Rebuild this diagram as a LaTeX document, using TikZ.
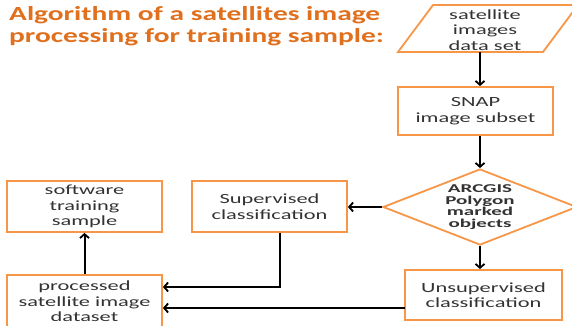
\documentclass[tikz,border=0pt]{standalone}
\usepackage{fontspec}
\setmainfont[FakeStretch=1.6]{Carlito}
\newfontfamily\titlefont[FakeStretch=1.47]{Carlito}
\newfontfamily\diafont[FakeStretch=1.75]{Carlito}
\usetikzlibrary{arrows.meta,shapes.geometric}
\definecolor{boxorange}{HTML}{F79646}
\definecolor{titleorange}{HTML}{E0701E}
\definecolor{txt}{HTML}{333333}
\tikzset{
  box/.style={draw=boxorange, line width=1.8pt, fill=white, inner sep=0pt, text=txt,
    align=center, font=\fontsize{14}{15.5}\selectfont},
  lbl/.style={inner sep=0pt, text=txt, align=center, font=\fontsize{14}{15.5}\selectfont},
  arr/.style={draw=black, line width=2pt, -{Straight Barb[length=4pt,width=9pt,line width=1.8pt]}},
}
\begin{document}
\begin{tikzpicture}[x=1pt,y=-1pt]
\useasboundingbox (0,0) rectangle (572,326);
% title
\node[anchor=north west, inner sep=0pt, align=left, text=titleorange,
  font=\titlefont\fontsize{20}{22.5}\selectfont\bfseries] (title) at (9,6)
  {Algorithm of a satellites image\\processing for training sample:};
% parallelogram input
\draw[draw=boxorange, line width=1.8pt, fill=white] (433,5) -- (578,5) -- (543,52) -- (398,52) -- cycle;
\node[lbl] (sat) at (485,30) {satellite\\images\\data set};
\coordinate (parb) at (480,52);
% boxes
\node[box, minimum width=155pt, minimum height=48pt] (snap) at (475.5,111) {SNAP\\image subset};
\node[draw=boxorange, line width=1.8pt, fill=white, shape=diamond, inner sep=0pt,
  minimum width=194pt, minimum height=76pt] (arc) at (480,207) {};
\node[lbl, font=\diafont\fontsize{12}{11.5}\selectfont\bfseries] (arct) at (arc.center) {ARCGIS\\Polygon\\marked\\objects};
\node[box, minimum width=157pt, minimum height=50pt] (unsup) at (483.5,295) {Unsupervised\\classification};
\node[box, minimum width=155pt, minimum height=51pt] (sup) at (269.5,206.5) {Supervised\\classification};
\node[box, minimum width=155pt, minimum height=51pt] (soft) at (84.5,206.5) {software\\training\\sample};
\node[box, minimum width=155pt, minimum height=53pt] (proc) at (84.5,301.5) {processed\\satellite image\\dataset};
% connectors
\coordinate (j1) at (280,287);
\coordinate (j2) at (405,308);
\draw[arr] (parb) -- (parb |- snap.north);
\draw[arr] (arc.north |- snap.south) -- (arc.north);
\draw[arr] (arc.south) -- (arc.south |- unsup.north);
\draw[arr] (arc.west) -- (arc.west -| sup.east);
\draw[arr] (sup.south -| j1) |- (proc.east |- j1);
\draw[arr] (j2) -- (proc.east |- j2);
\draw[arr] (proc.north) -- (soft.south);
\end{tikzpicture}
\end{document}
